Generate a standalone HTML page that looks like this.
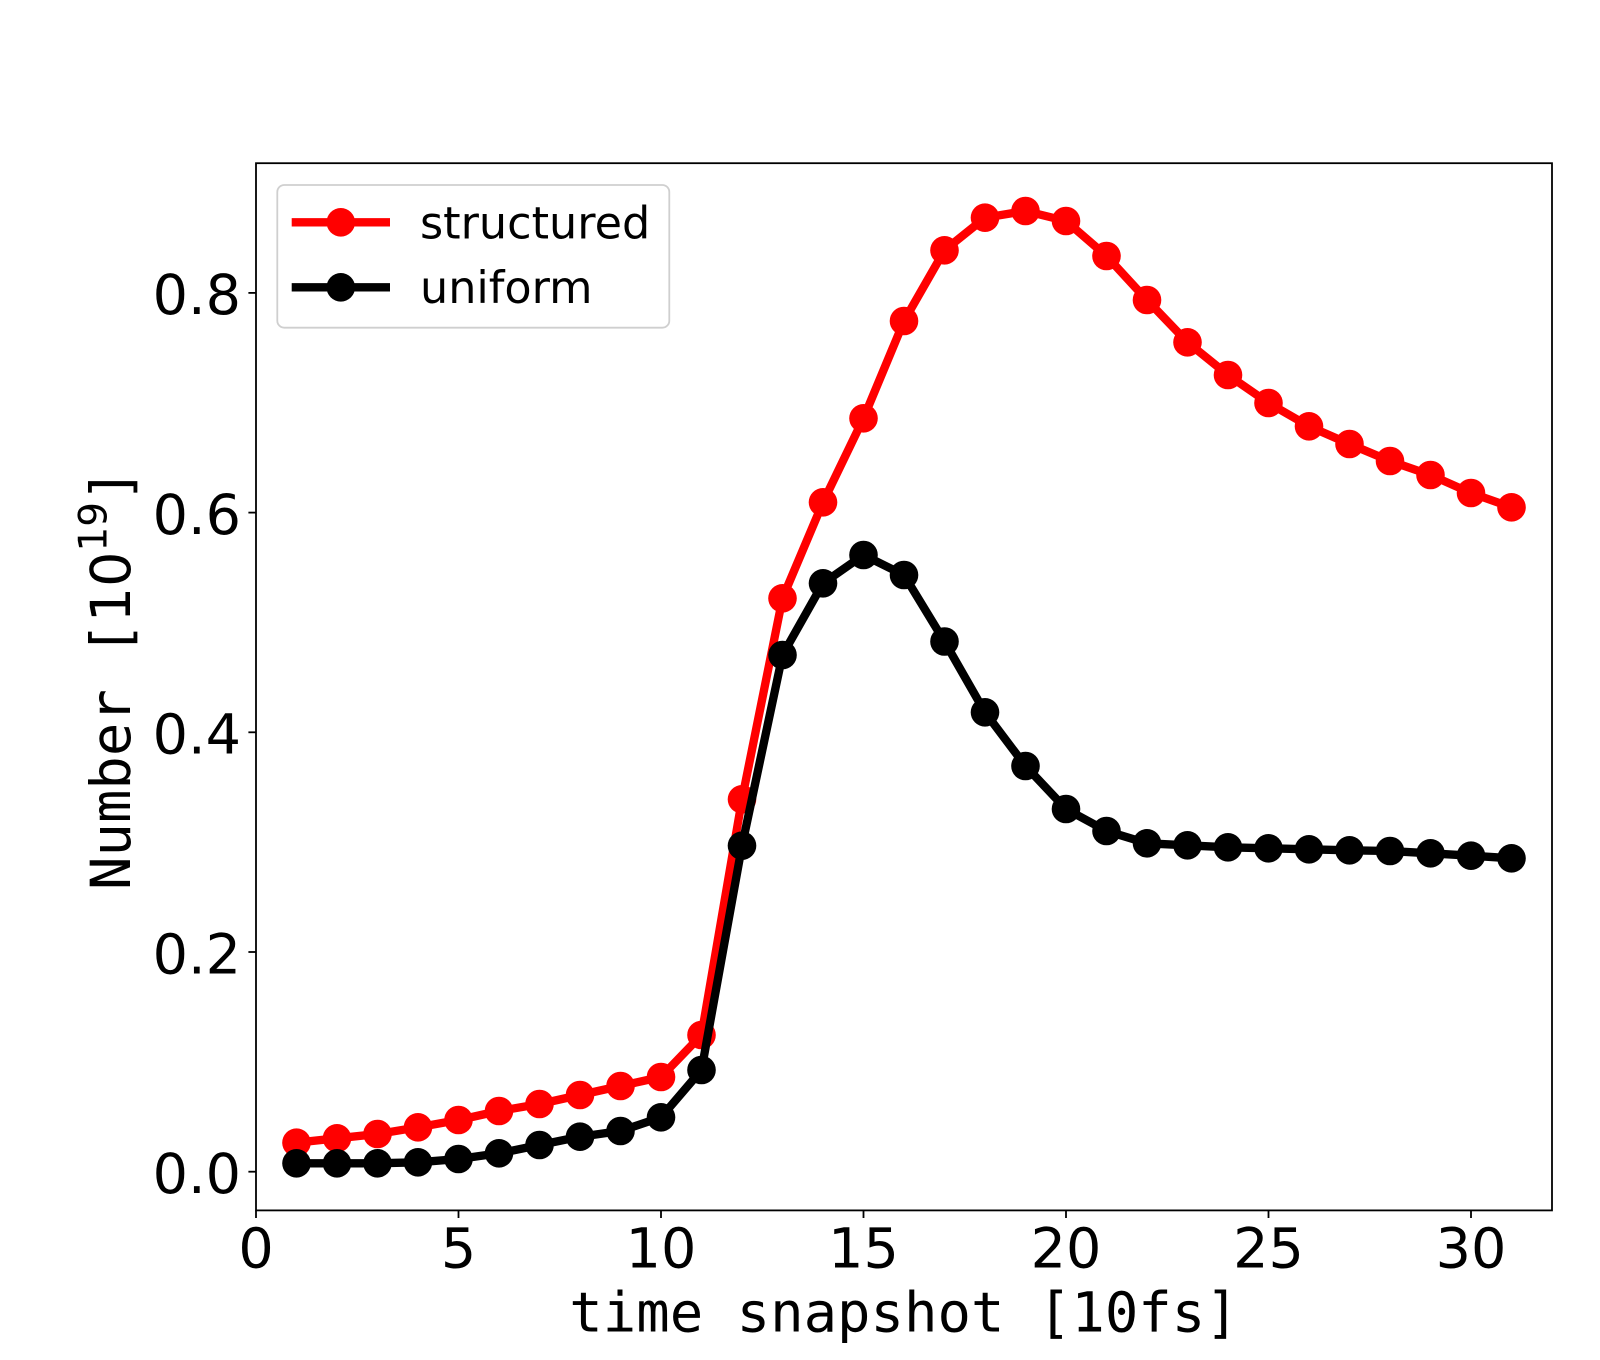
<!DOCTYPE html>
<html>
<head>
<meta charset="utf-8">
<style>
  html, body { margin: 0; padding: 0; background: #ffffff; }
  svg { display: block; }
  .tick { font-family: "DejaVu Sans", "Liberation Sans", sans-serif; font-size: 55.6px; fill: #000; }
  .mono { font-family: "DejaVu Sans Mono", "Liberation Mono", monospace; font-size: 55.6px; fill: #000; }
  .sans { font-family: "DejaVu Sans", "Liberation Sans", sans-serif; fill: #000; }
  .leg { font-family: "DejaVu Sans", "Liberation Sans", sans-serif; font-size: 44.5px; fill: #000; }
</style>
</head>
<body>
<svg width="1600" height="1360" viewBox="0 0 1600 1360" xmlns="http://www.w3.org/2000/svg">
  <rect x="0" y="0" width="1600" height="1360" fill="#ffffff"/>

  <!-- structured series -->
  <polyline fill="none" stroke="#ff0000" stroke-width="8.33" stroke-linejoin="round" stroke-linecap="square"
    points="296.5,1142.7 337,1138.3 377.5,1134 418,1127.3 458.5,1120 499,1111 539.5,1104 580,1095 620.5,1086 661,1077 701.5,1035 742,799.3 782.5,598.3 823,502.3 863.5,418.3 904,321 944.5,250.3 985,217.7 1025.5,211 1066,221 1106.5,256 1147,300 1187.5,342.3 1228,375 1268.5,403 1309,426.3 1349.5,444 1390,461 1430.5,475 1471,493 1511.5,507.3"/>
  <g fill="#ff0000">
    <circle cx="296.5" cy="1142.7" r="14.3"/><circle cx="337" cy="1138.3" r="14.3"/><circle cx="377.5" cy="1134" r="14.3"/>
    <circle cx="418" cy="1127.3" r="14.3"/><circle cx="458.5" cy="1120" r="14.3"/><circle cx="499" cy="1111" r="14.3"/>
    <circle cx="539.5" cy="1104" r="14.3"/><circle cx="580" cy="1095" r="14.3"/><circle cx="620.5" cy="1086" r="14.3"/>
    <circle cx="661" cy="1077" r="14.3"/><circle cx="701.5" cy="1035" r="14.3"/><circle cx="742" cy="799.3" r="14.3"/>
    <circle cx="782.5" cy="598.3" r="14.3"/><circle cx="823" cy="502.3" r="14.3"/><circle cx="863.5" cy="418.3" r="14.3"/>
    <circle cx="904" cy="321" r="14.3"/><circle cx="944.5" cy="250.3" r="14.3"/><circle cx="985" cy="217.7" r="14.3"/>
    <circle cx="1025.5" cy="211" r="14.3"/><circle cx="1066" cy="221" r="14.3"/><circle cx="1106.5" cy="256" r="14.3"/>
    <circle cx="1147" cy="300" r="14.3"/><circle cx="1187.5" cy="342.3" r="14.3"/><circle cx="1228" cy="375" r="14.3"/>
    <circle cx="1268.5" cy="403" r="14.3"/><circle cx="1309" cy="426.3" r="14.3"/><circle cx="1349.5" cy="444" r="14.3"/>
    <circle cx="1390" cy="461" r="14.3"/><circle cx="1430.5" cy="475" r="14.3"/><circle cx="1471" cy="493" r="14.3"/>
    <circle cx="1511.5" cy="507.3" r="14.3"/>
  </g>

  <!-- uniform series -->
  <polyline fill="none" stroke="#000000" stroke-width="8.33" stroke-linejoin="round" stroke-linecap="square"
    points="296.5,1163.3 337,1163.3 377.5,1163.3 418,1162.3 458.5,1159 499,1153.3 539.5,1145 580,1136.7 620.5,1131 661,1117.3 701.5,1070 742,845.7 782.5,655 823,583.3 863.5,555 904,575 944.5,641.5 985,712.3 1025.5,766 1066,809 1106.5,831 1147,843.3 1187.5,845.3 1228,847.3 1268.5,848.3 1309,849.3 1349.5,850.3 1390,851 1430.5,853.3 1471,855.7 1511.5,858.3"/>
  <g fill="#000000">
    <circle cx="296.5" cy="1163.3" r="14.3"/><circle cx="337" cy="1163.3" r="14.3"/><circle cx="377.5" cy="1163.3" r="14.3"/>
    <circle cx="418" cy="1162.3" r="14.3"/><circle cx="458.5" cy="1159" r="14.3"/><circle cx="499" cy="1153.3" r="14.3"/>
    <circle cx="539.5" cy="1145" r="14.3"/><circle cx="580" cy="1136.7" r="14.3"/><circle cx="620.5" cy="1131" r="14.3"/>
    <circle cx="661" cy="1117.3" r="14.3"/><circle cx="701.5" cy="1070" r="14.3"/><circle cx="742" cy="845.7" r="14.3"/>
    <circle cx="782.5" cy="655" r="14.3"/><circle cx="823" cy="583.3" r="14.3"/><circle cx="863.5" cy="555" r="14.3"/>
    <circle cx="904" cy="575" r="14.3"/><circle cx="944.5" cy="641.5" r="14.3"/><circle cx="985" cy="712.3" r="14.3"/>
    <circle cx="1025.5" cy="766" r="14.3"/><circle cx="1066" cy="809" r="14.3"/><circle cx="1106.5" cy="831" r="14.3"/>
    <circle cx="1147" cy="843.3" r="14.3"/><circle cx="1187.5" cy="845.3" r="14.3"/><circle cx="1228" cy="847.3" r="14.3"/>
    <circle cx="1268.5" cy="848.3" r="14.3"/><circle cx="1309" cy="849.3" r="14.3"/><circle cx="1349.5" cy="850.3" r="14.3"/>
    <circle cx="1390" cy="851" r="14.3"/><circle cx="1430.5" cy="853.3" r="14.3"/><circle cx="1471" cy="855.7" r="14.3"/>
    <circle cx="1511.5" cy="858.3" r="14.3"/>
  </g>

  <!-- axes frame -->
  <rect x="256" y="163.2" width="1296" height="1047.2" fill="none" stroke="#000" stroke-width="1.8"/>

  <!-- x ticks -->
  <g stroke="#000" stroke-width="1.8">
    <line x1="256" y1="1210.4" x2="256" y2="1218"/>
    <line x1="458.5" y1="1210.4" x2="458.5" y2="1218"/>
    <line x1="661" y1="1210.4" x2="661" y2="1218"/>
    <line x1="863.5" y1="1210.4" x2="863.5" y2="1218"/>
    <line x1="1066" y1="1210.4" x2="1066" y2="1218"/>
    <line x1="1268.5" y1="1210.4" x2="1268.5" y2="1218"/>
    <line x1="1471" y1="1210.4" x2="1471" y2="1218"/>
  </g>
  <g class="tick" text-anchor="middle">
    <text x="256" y="1267.5">0</text>
    <text x="458.5" y="1267.5">5</text>
    <text x="661" y="1267.5">10</text>
    <text x="863.5" y="1267.5">15</text>
    <text x="1066" y="1267.5">20</text>
    <text x="1268.5" y="1267.5">25</text>
    <text x="1471" y="1267.5">30</text>
  </g>

  <!-- y ticks -->
  <g stroke="#000" stroke-width="1.8">
    <line x1="248.4" y1="1171.7" x2="256" y2="1171.7"/>
    <line x1="248.4" y1="952" x2="256" y2="952"/>
    <line x1="248.4" y1="732.3" x2="256" y2="732.3"/>
    <line x1="248.4" y1="512.6" x2="256" y2="512.6"/>
    <line x1="248.4" y1="292.9" x2="256" y2="292.9"/>
  </g>
  <g class="tick" text-anchor="end">
    <text x="241" y="1193">0.0</text>
    <text x="241" y="973.3">0.2</text>
    <text x="241" y="753.6">0.4</text>
    <text x="241" y="533.9">0.6</text>
    <text x="241" y="314.2">0.8</text>
  </g>

  <!-- x label -->
  <text class="mono" x="904" y="1331.5" text-anchor="middle">time snapshot [10fs]</text>

  <!-- y label -->
  <g transform="translate(130,890) rotate(-90)">
    <text x="0" y="0"><tspan class="mono">Number [</tspan><tspan class="sans" font-size="55.6px">10</tspan><tspan class="sans" font-size="38.9px" dy="-23.5">19</tspan><tspan class="mono" dy="23.5">]</tspan></text>
  </g>

  <!-- legend -->
  <rect x="277.3" y="185" width="392" height="142.7" rx="7" ry="7" fill="#ffffff" fill-opacity="0.8" stroke="#cfcfcf" stroke-width="1.8"/>
  <line x1="291.7" y1="222.3" x2="390" y2="222.3" stroke="#ff0000" stroke-width="8.33"/>
  <circle cx="340.8" cy="222.3" r="14.3" fill="#ff0000"/>
  <text class="leg" x="420" y="238.3">structured</text>
  <line x1="291.7" y1="287.3" x2="390" y2="287.3" stroke="#000000" stroke-width="8.33"/>
  <circle cx="340.8" cy="287.3" r="14.3" fill="#000000"/>
  <text class="leg" x="420" y="302.8">uniform</text>
</svg>
</body>
</html>
